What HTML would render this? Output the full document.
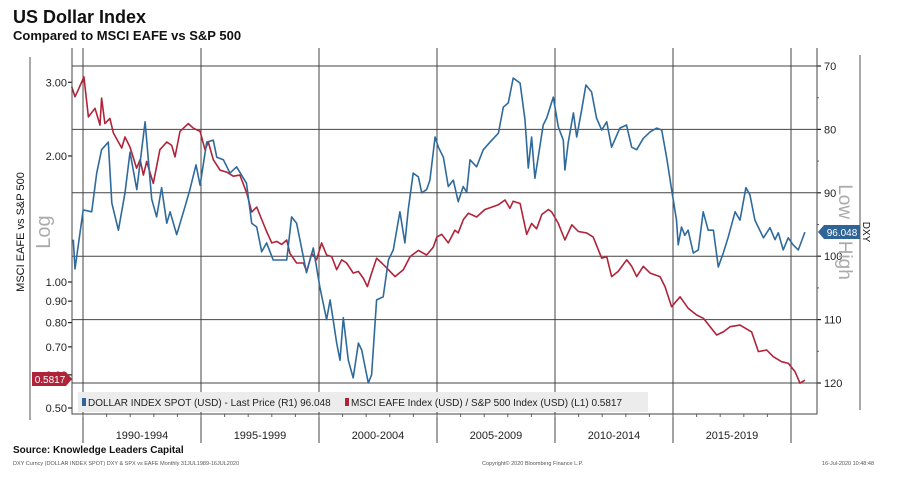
<!DOCTYPE html>
<html><head><meta charset="utf-8"><style>
html,body{margin:0;padding:0;background:#fff;}
body{width:902px;height:477px;overflow:hidden;font-family:"Liberation Sans",sans-serif;}
svg text{font-family:"Liberation Sans",sans-serif;}
</style></head><body>
<svg id="chart" width="902" height="477" viewBox="0 0 902 477" xmlns="http://www.w3.org/2000/svg">
<text x="13" y="23" font-size="18" font-weight="bold" fill="#111">US Dollar Index</text>
<text x="13" y="40" font-size="13" font-weight="bold" fill="#111">Compared to MSCI EAFE vs S&amp;P 500</text>
<g id="grid"></g>
<g id="series"></g>
<g id="axes"></g>
<text transform="translate(24,232) rotate(-90)" text-anchor="middle" font-size="11" fill="#111">MSCI EAFE vs S&amp;P 500</text>
<text transform="translate(50,232) rotate(-90)" text-anchor="middle" font-size="20" fill="#aaa">Log</text>
<text transform="translate(839,232) rotate(90)" text-anchor="middle" font-size="19" fill="#aaa">Low = High</text>
<text transform="translate(863,232) rotate(90)" text-anchor="middle" font-size="10" fill="#111">DXY</text>
<line x1="860" y1="55" x2="860" y2="410" stroke="#555" stroke-width="1"/>
<line x1="30" y1="57" x2="30" y2="420" stroke="#555" stroke-width="1"/>
<g>
<path d="M818,232 L824,225 L860,225 L860,239 L824,239 Z" fill="#2f6496"/>
<text x="842" y="236" text-anchor="middle" font-size="10" fill="#fff">96.048</text>
</g>
<g>
<path d="M32,372 L66,372 L72,379 L66,386 L32,386 Z" fill="#b0243a"/>
<text x="50" y="383" text-anchor="middle" font-size="10" fill="#fff">0.5817</text>
</g>
<g>
<rect x="78" y="392" width="570" height="20" fill="#ececec"/>
<rect x="82" y="398" width="4" height="8" fill="#2f6496"/>
<text x="88" y="406" font-size="10" fill="#222">DOLLAR INDEX SPOT (USD) - Last Price (R1) 96.048</text>
<rect x="345" y="398" width="4" height="8" fill="#b0243a"/>
<text x="351" y="406" font-size="10" fill="#222">MSCI EAFE Index (USD) / S&amp;P 500 Index (USD) (L1) 0.5817</text>
</g>
<text x="13" y="453" font-size="10" font-weight="bold" fill="#111">Source: Knowledge Leaders Capital</text>
<text x="13" y="465" font-size="5.5" fill="#555">DXY Curncy (DOLLAR INDEX SPOT) DXY &amp; SPX vs EAFE  Monthly 31JUL1989-16JUL2020</text>
<text x="482" y="465" font-size="5.5" fill="#555">Copyright© 2020 Bloomberg Finance L.P.</text>
<text x="874" y="465" text-anchor="end" font-size="5.5" fill="#555">16-Jul-2020 10:48:48</text>
</svg>
<script>
const dxyDates=[1989.59,1989.66,1990.01,1990.37,1990.58,1990.79,1991.07,1991.22,1991.50,1991.78,1991.99,1992.28,1992.63,1992.91,1993.12,1993.33,1993.55,1993.69,1993.97,1994.32,1994.53,1994.79,1994.96,1995.24,1995.52,1995.67,1995.95,1996.23,1996.51,1996.93,1997.15,1997.36,1997.57,1997.78,1998.06,1998.35,1998.63,1998.84,1999.05,1999.47,1999.76,2000.04,2000.32,2000.47,2000.75,2000.89,2001.03,2001.24,2001.45,2001.67,2001.81,2002.09,2002.23,2002.44,2002.72,2002.94,2003.15,2003.43,2003.64,2003.78,2003.99,2004.21,2004.35,2004.56,2004.70,2004.92,2005.06,2005.27,2005.48,2005.69,2005.90,2006.11,2006.26,2006.40,2006.68,2006.96,2007.32,2007.60,2007.81,2008.02,2008.23,2008.52,2008.73,2008.87,2009.01,2009.15,2009.29,2009.50,2009.65,2009.93,2010.14,2010.35,2010.42,2010.56,2010.78,2010.92,2011.13,2011.31,2011.55,2011.76,2011.98,2012.19,2012.40,2012.75,2013.03,2013.25,2013.46,2013.74,2014.03,2014.31,2014.52,2014.73,2014.94,2015.15,2015.22,2015.36,2015.50,2015.64,2015.86,2016.07,2016.28,2016.49,2016.71,2016.92,2017.13,2017.34,2017.63,2017.84,2018.09,2018.26,2018.47,2018.83,2019.11,2019.32,2019.46,2019.67,2019.88,2020.09,2020.31,2020.59];
const dxyValues=[97.4,102,92.7,93,86.9,83.2,82,91.6,95.9,90,83.6,89.5,78.8,91,93.8,89.2,94.8,93,96.6,92.2,89.5,85.6,88.8,82,81.7,84.4,84.8,86.9,85.9,88.5,94.8,95.4,99.3,97.9,100.6,100.6,100.6,93.8,94.8,102.6,98.7,104.9,110,106.9,113.7,116.4,109.7,116.4,119.2,113.7,114.8,120,118.7,106.9,106.4,100.6,99,93,97.9,92.7,86.9,87.5,90,89.5,88,81.2,82.8,84.4,89,88,91.4,89,89.9,84.8,85.9,83.2,81.7,80.6,76.5,75.8,71.9,72.7,78.5,86.1,81.2,87.7,84.4,79.3,78.2,74.9,79.6,81.7,86.4,82.1,77.4,81.2,76.9,73,74.1,78.2,80.1,78.8,82.8,79.8,79.3,82.8,83.2,81.4,80.4,79.8,80.1,84.4,89.5,94.3,98.2,95.4,96.7,95.9,99.5,99,93,95.9,95.9,101.7,99.5,97,93,94.3,89.2,90.3,94.3,97.1,95.5,97.4,96.3,99,97.1,98.2,99,96.2];
const ratioDates=[1989.52,1989.66,1989.80,1990.04,1990.23,1990.51,1990.72,1990.79,1990.93,1991.14,1991.29,1991.64,1991.78,1991.99,1992.27,1992.42,1992.56,1992.70,1992.98,1993.26,1993.55,1993.76,1993.90,1994.11,1994.46,1994.68,1994.96,1995.17,1995.31,1995.52,1995.81,1996.09,1996.37,1996.65,1996.94,1997.15,1997.36,1997.57,1997.78,1998.00,1998.21,1998.42,1998.63,1998.77,1999.05,1999.34,1999.48,1999.69,1999.90,2000.11,2000.32,2000.54,2000.75,2000.96,2001.17,2001.45,2001.67,2001.88,2002.05,2002.23,2002.44,2002.66,2002.94,2003.22,2003.57,2003.86,2004.21,2004.56,2004.84,2004.99,2005.20,2005.48,2005.76,2005.90,2006.12,2006.33,2006.68,2007.03,2007.32,2007.60,2007.88,2008.09,2008.23,2008.52,2008.80,2009.01,2009.22,2009.44,2009.72,2009.86,2010.14,2010.42,2010.71,2010.99,2011.34,2011.62,2011.98,2012.19,2012.40,2012.68,2013.04,2013.25,2013.46,2013.74,2014.03,2014.45,2014.66,2014.94,2015.30,2015.65,2016.00,2016.29,2016.57,2016.85,2017.13,2017.42,2017.84,2018.33,2018.62,2018.97,2019.25,2019.60,2019.89,2020.17,2020.38,2020.59];
const ratioValues=[2.93,2.77,2.88,3.09,2.48,2.60,2.37,2.75,2.39,2.46,2.27,2.09,2.22,2.10,1.87,1.96,1.80,1.94,1.72,2.07,2.16,2.12,1.99,2.29,2.39,2.33,2.29,2.07,2.16,1.96,1.85,1.83,1.79,1.80,1.63,1.47,1.51,1.41,1.32,1.24,1.25,1.23,1.26,1.17,1.11,1.11,1.06,1.17,1.13,1.24,1.16,1.15,1.07,1.13,1.11,1.05,1.06,1.02,0.975,1.05,1.14,1.11,1.07,1.03,1.07,1.15,1.19,1.16,1.21,1.28,1.30,1.24,1.33,1.31,1.41,1.46,1.43,1.49,1.51,1.53,1.57,1.50,1.56,1.54,1.30,1.38,1.34,1.45,1.49,1.47,1.38,1.26,1.37,1.32,1.31,1.28,1.14,1.15,1.03,1.06,1.13,1.09,1.03,1.09,1.05,1.03,0.975,0.873,0.922,0.865,0.834,0.819,0.782,0.747,0.760,0.782,0.789,0.760,0.682,0.688,0.663,0.645,0.639,0.611,0.573,0.583];
const rightTicks=[70,80,90,100,110,120];
const leftTicks=[3.0,2.0,1.0,0.9,0.8,0.7,0.6,0.5];
const leftTickLabels=["3.00","2.00","1.00","0.90","0.80","0.70","0.60","0.50"];
const periodYears=[1990,1995,2000,2005,2010,2015,2020];
const periodLabels=["1990-1994","1995-1999","2000-2004","2005-2009","2010-2014","2015-2019"];

const NS="http://www.w3.org/2000/svg";
const X0=72,X1=817,YT=48,YB=414;
function xS(t){return 83+(t-1990)*23.6;}
function yR(v){return 66+(v-70)*6.34;}
function yL(v){return 282-418.6*Math.log10(v);}
function mk(tag,attrs,parent){const e=document.createElementNS(NS,tag);for(const k in attrs)e.setAttribute(k,attrs[k]);parent.appendChild(e);return e;}
const grid=document.getElementById('grid'),axes=document.getElementById('axes'),series=document.getElementById('series');

rightTicks.forEach(v=>{
  const y=yR(v);
  const l=mk('line',{x1:X0,y1:y,x2:X1,y2:y,stroke:'#444','stroke-width':1},grid);
  
  
  const t=mk('text',{x:X1+7,y:y+4,'font-size':11,fill:'#222'},axes);
  
  
  t.textContent=v;
  const d=mk('line',{x1:X1,y1:y,x2:X1+4,y2:y,stroke:'#222','stroke-width':1.2},axes);
  
  
});
for(let v=75;v<=120;v+=10){
  const m=mk('line',{x1:X1,y1:yR(v),x2:X1+2,y2:yR(v),stroke:'#666','stroke-width':1},axes);
  
  
}
periodYears.forEach(yr=>{
  const x=xS(yr);
  const l=mk('line',{x1:x,y1:YT,x2:x,y2:443,stroke:'#444','stroke-width':1},grid);
  
  
});
periodLabels.forEach((s,i)=>{
  const x=(xS(periodYears[i])+xS(periodYears[i+1]))/2;
  const t=mk('text',{x:x,y:439,'text-anchor':'middle','font-size':11,fill:'#222'},axes);
  
  
  t.textContent=s;
});
for(let yr=1990;yr<=2020;yr++){
  const m=mk('line',{x1:xS(yr),y1:YB,x2:xS(yr),y2:YB+3,stroke:'#666','stroke-width':1},axes);
  
  
}
leftTicks.forEach((v,i)=>{
  const y=yL(v);
  const t=mk('text',{x:X0-5,y:y+4,'text-anchor':'end','font-size':11,fill:'#222'},axes);
  
  
  t.textContent=leftTickLabels[i];
  const d=mk('line',{x1:X0-4,y1:y,x2:X0,y2:y,stroke:'#222','stroke-width':1.2},axes);
  
  
});
const fr=mk('path',{d:`M${X0},${YT} L${X0},${YB} L${X1},${YB} L${X1},${YT}`,fill:'none',stroke:'#444','stroke-width':1},axes);



function line(dates,vals,ys,color,name){
  const d=dates.map((t,i)=>(i?'L':'M')+xS(t).toFixed(1)+','+ys(vals[i]).toFixed(1)).join(' ');
  const p=mk('path',{d:d,fill:'none',stroke:color,'stroke-width':1.6,'stroke-linejoin':'round'},series);
  
  
}
line(ratioDates,ratioValues,yL,'#b0243a','eafe-spx-ratio-line');
line(dxyDates,dxyValues,yR,'#2f6a9c','dxy-line');
</script>
</body></html>
